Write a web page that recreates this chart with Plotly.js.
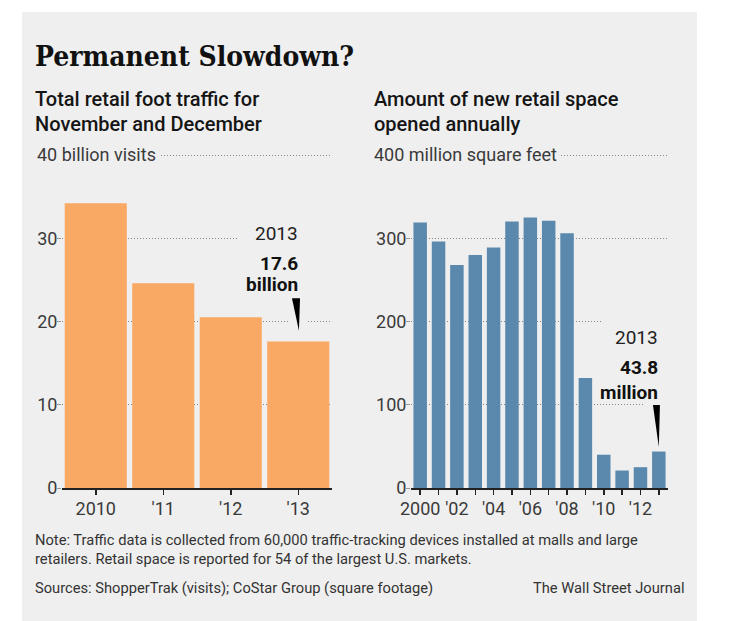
<!DOCTYPE html>
<html><head><meta charset="utf-8">
<script src="https://cdn.plot.ly/plotly-3.0.1.min.js"></script>
<style>html,body{margin:0;padding:0;background:#fff}</style>
</head><body><div id="chart" style="width:736px;height:621px"></div>
<script>
// ---- data ----
const trafficYears = ['2010', "'11", "'12", "'13"];
const trafficVisits = [34.2, 24.6, 20.5, 17.6];          // billion visits, Nov+Dec
const trafficTicks = [0, 10, 20, 30, 40];
const trafficTickText = ['0', '10', '20', '30', ''];

const spaceYears = ['2000','2001','2002','2003','2004','2005','2006','2007','2008','2009','2010','2011','2012','2013'];
const spaceSqft = [319, 296, 268, 280, 289, 320, 325, 321, 306, 132, 40, 21, 25, 43.8]; // million sq ft
const spaceTickText = ['2000', '', "'02", '', "'04", '', "'06", '', "'08", '', "'10", '', "'12", ''];
const spaceTicks = [0, 100, 200, 300, 400];
const spaceTickLabels = ['0', '100', '200', '300', ''];

// ---- styling ----
const W = 736, H = 621;
const px = v => v / W, py = v => 1 - v / H;
const PANEL = '#efefef', ORANGE = '#f9a963', BLUE = '#5a89ad', INK = '#222';
const SANS = 'Roboto, "Open Sans", sans-serif';

const tIdx = trafficYears.map((_, i) => i);
const sIdx = spaceYears.map((_, i) => i);
const tLast = trafficVisits.length - 1, sLast = spaceSqft.length - 1;

const traces = [
  { type: 'bar', x: tIdx, y: trafficVisits, xaxis: 'x', yaxis: 'y', width: 0.92,
    marker: { color: ORANGE, line: { width: 0 } }, hoverinfo: 'skip' },
  { type: 'bar', x: sIdx, y: spaceSqft, xaxis: 'x2', yaxis: 'y2', width: 0.735,
    marker: { color: BLUE, line: { width: 0 } }, hoverinfo: 'skip' }
];

const yCommon = {
  showgrid: true, gridcolor: '#858585', griddash: '1px,2px', gridwidth: 1,
  zeroline: false, showline: false, ticks: 'outside', ticklen: 4, tickcolor: '#999', tickwidth: 1,
  ticklabelstandoff: -4,
  tickfont: { family: SANS, size: 18, color: '#3a3a3a', weight: 400 }, fixedrange: true
};
const xCommon = {
  showgrid: false, zeroline: false, showline: true, linecolor: INK, linewidth: 2,
  ticks: 'outside', ticklen: 5, tickcolor: INK, tickwidth: 1.5, ticklabelstandoff: -2,
  tickfont: { family: SANS, size: 18, color: '#3a3a3a', weight: 400 }, fixedrange: true
};

// zero at y=488px, top tick (40 / 400) at y=155px; plot area extends a little above so that gridline is kept
const yZero = 488, yTopTick = 155, yTop = 146;
const headroom = (yZero - yTop) / (yZero - yTopTick);

const layout = {
  width: W, height: H, margin: { l: 0, r: 0, t: 0, b: 0 },
  paper_bgcolor: '#ffffff', plot_bgcolor: 'rgba(0,0,0,0)', showlegend: false,
  xaxis: Object.assign({}, xCommon, { domain: [px(62), px(332)], anchor: 'y', range: [-0.5, trafficYears.length - 0.5],
    tickmode: 'array', tickvals: tIdx, ticktext: trafficYears }),
  yaxis: Object.assign({}, yCommon, { domain: [py(yZero), py(yTop)], anchor: 'x', range: [0, trafficTicks[4] * headroom],
    tickmode: 'array', tickvals: trafficTicks, ticktext: trafficTickText }),
  xaxis2: Object.assign({}, xCommon, { domain: [px(411), px(668)], anchor: 'y2', range: [-0.5, spaceYears.length - 0.5],
    tickmode: 'array', tickvals: sIdx, ticktext: spaceTickText }),
  yaxis2: Object.assign({}, yCommon, { domain: [py(yZero), py(yTop)], anchor: 'x2', range: [0, spaceTicks[4] * headroom],
    tickmode: 'array', tickvals: spaceTicks, ticktext: spaceTickLabels }),
  shapes: [
    { type: 'rect', xref: 'paper', yref: 'paper', x0: px(22), x1: px(697), y0: -0.01, y1: py(12),
      fillcolor: PANEL, line: { width: 0 }, layer: 'below' },
    // gridline gaps behind labels / pointers
    { type: 'rect', xref: 'x', yref: 'y', x0: 2.1, x1: 3.5, y0: 28.5, y1: 31.5, fillcolor: PANEL, line: { width: 0 }, layer: 'between' },
    { type: 'rect', xref: 'x', yref: 'y', x0: 2.88, x1: 3.13, y0: 19.3, y1: 20.7, fillcolor: PANEL, line: { width: 0 }, layer: 'between' },
    { type: 'rect', xref: 'x2', yref: 'y2', x0: 9.95, x1: 13.5, y0: 190, y1: 210, fillcolor: PANEL, line: { width: 0 }, layer: 'between' },
    { type: 'rect', xref: 'x2', yref: 'y2', x0: 12.24, x1: 13.5, y0: 95, y1: 105, fillcolor: PANEL, line: { width: 0 }, layer: 'between' },
    // pointer wedges
    { type: 'path', xref: 'x', yref: 'y', fillcolor: '#000', line: { width: 0 },
      path: `M ${tLast - 0.093},${trafficVisits[tLast] + 5.2} L ${tLast + 0.026},${trafficVisits[tLast] + 5.2} L ${tLast + 0.01},${trafficVisits[tLast] + 1.3} Z` },
    { type: 'path', xref: 'x2', yref: 'y2', fillcolor: '#000', line: { width: 0 },
      path: `M ${sLast - 0.32},${spaceSqft[sLast] + 56} L ${sLast + 0.06},${spaceSqft[sLast] + 56} L ${sLast},${spaceSqft[sLast] + 5.5} Z` }
  ],
  annotations: [
    { text: 'Permanent Slowdown?', xref: 'paper', yref: 'paper', x: px(33), y: py(57), xanchor: 'left', yanchor: 'middle',
      showarrow: false, font: { family: '"DejaVu Serif Condensed", "DejaVu Serif", serif', size: 28, color: '#111', weight: 700 } },
    { text: 'Total retail foot traffic for', xref: 'paper', yref: 'paper', x: px(33), y: py(99), xanchor: 'left', yanchor: 'middle',
      showarrow: false, font: { family: SANS, size: 20, color: '#151515', weight: 500 } },
    { text: 'November and December', xref: 'paper', yref: 'paper', x: px(33), y: py(124), xanchor: 'left', yanchor: 'middle',
      showarrow: false, font: { family: SANS, size: 20, color: '#151515', weight: 500 } },
    { text: 'Amount of new retail space', xref: 'paper', yref: 'paper', x: px(372), y: py(99), xanchor: 'left', yanchor: 'middle',
      showarrow: false, font: { family: SANS, size: 20, color: '#151515', weight: 500 } },
    { text: 'opened annually', xref: 'paper', yref: 'paper', x: px(372), y: py(124), xanchor: 'left', yanchor: 'middle',
      showarrow: false, font: { family: SANS, size: 20, color: '#151515', weight: 500 } },
    { text: '40 billion visits', xref: 'paper', yref: 'y', x: px(33), y: trafficTicks[4], xanchor: 'left', yanchor: 'middle',
      showarrow: false, bgcolor: PANEL, borderpad: 3, font: { family: SANS, size: 18, color: '#3a3a3a', weight: 400 } },
    { text: '400 million square feet', xref: 'paper', yref: 'y2', x: px(370), y: spaceTicks[4], xanchor: 'left', yanchor: 'middle',
      showarrow: false, bgcolor: PANEL, borderpad: 3, font: { family: SANS, size: 18, color: '#3a3a3a', weight: 400 } },
    // callouts
    { text: '2013', xref: 'x', yref: 'y', x: tLast + 0.03, y: 30.6, xanchor: 'right', yanchor: 'middle', showarrow: false,
      font: { family: SANS, size: 19, color: '#222', weight: 400 } },
    { text: `${trafficVisits[tLast]}`, xref: 'x', yref: 'y', x: tLast + 0.03, y: 27.0, xanchor: 'right', yanchor: 'middle', showarrow: false,
      font: { family: SANS, size: 19, color: '#111', weight: 700 } },
    { text: 'billion', xref: 'x', yref: 'y', x: tLast + 0.03, y: 24.4, xanchor: 'right', yanchor: 'middle', showarrow: false,
      font: { family: SANS, size: 19, color: '#111', weight: 700 } },
    { text: '2013', xref: 'x2', yref: 'y2', x: sLast + 0.06, y: 181, xanchor: 'right', yanchor: 'middle', showarrow: false,
      font: { family: SANS, size: 19, color: '#222', weight: 400 } },
    { text: `${spaceSqft[sLast]}`, xref: 'x2', yref: 'y2', x: sLast + 0.06, y: 145, xanchor: 'right', yanchor: 'middle', showarrow: false,
      font: { family: SANS, size: 19, color: '#111', weight: 700 } },
    { text: 'million', xref: 'x2', yref: 'y2', x: sLast + 0.06, y: 115, xanchor: 'right', yanchor: 'middle', showarrow: false,
      font: { family: SANS, size: 19, color: '#111', weight: 700 } },
    // notes
    { text: 'Note: Traffic data is collected from 60,000 traffic-tracking devices installed at malls and large<br>retailers. Retail space is reported for 54 of the largest U.S. markets.',
      xref: 'paper', yref: 'paper', x: px(33), y: py(529), xanchor: 'left', yanchor: 'top', align: 'left', showarrow: false,
      font: { family: SANS, size: 14.7, color: '#333' } },
    { text: 'Sources: ShopperTrak (visits); CoStar Group (square footage)', xref: 'paper', yref: 'paper', x: px(33), y: py(588),
      xanchor: 'left', yanchor: 'middle', showarrow: false, font: { family: SANS, size: 14.7, color: '#333' } },
    { text: 'The Wall Street Journal', xref: 'paper', yref: 'paper', x: px(686), y: py(588),
      xanchor: 'right', yanchor: 'middle', showarrow: false, font: { family: SANS, size: 14.7, color: '#333' } }
  ]
};

Plotly.newPlot('chart', traces, layout, { staticPlot: true, displayModeBar: false });
</script>
</body></html>
